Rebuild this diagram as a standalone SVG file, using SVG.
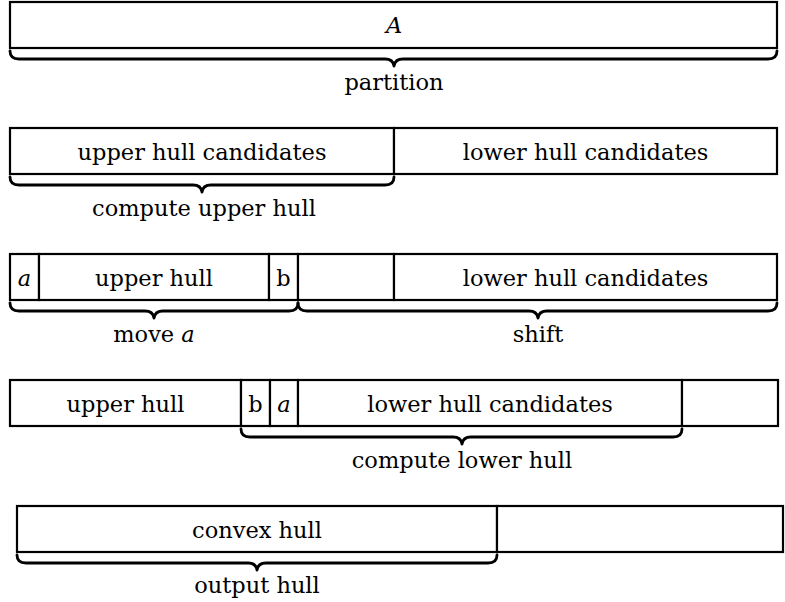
<svg xmlns="http://www.w3.org/2000/svg" width="785" height="602" viewBox="0 0 785 602">
<style>
  .box { fill: #fff; stroke: #000; stroke-width: 2.2; }
  .brace { fill: none; stroke: #000; stroke-width: 2.8; stroke-linecap: round; stroke-linejoin: round; }
  text { font-family: "DejaVu Serif", "Liberation Serif", serif; font-size: 22.5px; fill: #000; text-anchor: middle; }
  .it { font-style: italic; }
</style>
<rect width="785" height="602" fill="#fff"/>

<!-- Row 1 -->
<g id="row1-A"><rect class="box" x="10" y="2" width="767" height="46"/><text class="it" x="394" y="33">A</text></g>

<!-- Row 2 -->
<g id="row2-upper-candidates"><rect class="box" x="10" y="128" width="384" height="46"/><text x="202" y="160">upper hull candidates</text></g>
<g id="row2-lower-candidates"><rect class="box" x="394" y="128" width="383" height="46"/><text x="585.5" y="160">lower hull candidates</text></g>

<!-- Row 3 -->
<g id="row3-a"><rect class="box" x="10" y="254" width="29" height="46"/><text class="it" x="24.5" y="286">a</text></g>
<g id="row3-upper-hull"><rect class="box" x="39" y="254" width="230" height="46"/><text x="154" y="286">upper hull</text></g>
<g id="row3-b"><rect class="box" x="269" y="254" width="29" height="46"/><text x="283.5" y="286">b</text></g>
<g id="row3-empty"><rect class="box" x="298" y="254" width="96" height="46"/></g>
<g id="row3-lower-candidates"><rect class="box" x="394" y="254" width="383" height="46"/><text x="585.5" y="286">lower hull candidates</text></g>

<!-- Row 4 -->
<g id="row4-upper-hull"><rect class="box" x="10" y="380" width="231" height="46"/><text x="125.5" y="412">upper hull</text></g>
<g id="row4-b"><rect class="box" x="241" y="380" width="29" height="46"/><text x="255.5" y="412">b</text></g>
<g id="row4-a"><rect class="box" x="270" y="380" width="28" height="46"/><text class="it" x="284" y="412">a</text></g>
<g id="row4-lower-candidates"><rect class="box" x="298" y="380" width="384" height="46"/><text x="490" y="412">lower hull candidates</text></g>
<g id="row4-empty"><rect class="box" x="682" y="380" width="96" height="46"/></g>

<!-- Row 5 -->
<g id="row5-convex-hull"><rect class="box" x="17" y="506" width="480" height="46"/><text x="257" y="538">convex hull</text></g>
<g id="row5-empty"><rect class="box" x="497" y="506" width="286" height="46"/></g>

<!-- Braces (connectors) -->
<g id="connectors">
  <path class="brace" d="M10,51 Q10,59 19,59 H385 Q393,59 394,66 Q395,59 403,59 H768 Q777,59 777,51"/>
  <path class="brace" d="M10,177 Q10,185 19,185 H193 Q201,185 202,192 Q203,185 211,185 H385 Q394,185 394,177"/>
  <path class="brace" d="M10,303 Q10,311 19,311 H145 Q153,311 154,318 Q155,311 163,311 H289 Q298,311 298,303"/>
  <path class="brace" d="M298,303 Q298,311 307,311 H529 Q537,311 538,318 Q539,311 547,311 H768 Q777,311 777,303"/>
  <path class="brace" d="M241,429 Q241,437 250,437 H453 Q461,437 462,444 Q463,437 471,437 H673 Q682,437 682,429"/>
  <path class="brace" d="M17,555 Q17,563 26,563 H248 Q256,563 257,570 Q258,563 266,563 H488 Q497,563 497,555"/>
</g>

<!-- Brace labels -->
<g id="labels">
  <text x="394" y="90">partition</text>
  <text x="204" y="216">compute upper hull</text>
  <text x="154" y="342">move <tspan class="it">a</tspan></text>
  <text x="538" y="342">shift</text>
  <text x="462" y="468">compute lower hull</text>
  <text x="257" y="593">output hull</text>
</g>
</svg>
